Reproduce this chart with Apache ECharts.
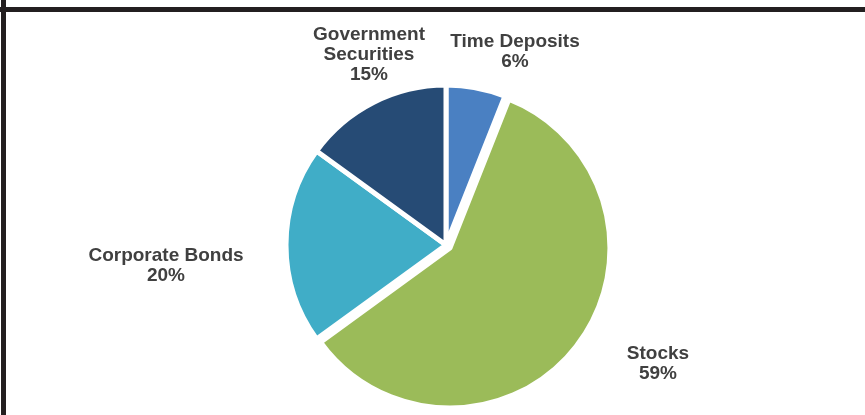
<!doctype html>
<html>
<head>
<meta charset="UTF-8">
<title>Portfolio Allocation</title>
<script src="https://cdn.jsdelivr.net/npm/echarts@6/dist/echarts.min.js"></script>
<style>
  html, body { margin: 0; padding: 0; background: #ffffff; }
  #chart { width: 865px; height: 415px; }
</style>
</head>
<body>
<div id="chart"></div>
<script type="text/javascript">
// data, clockwise from 12 o'clock
var categories = ['Time Deposits', 'Stocks', 'Corporate Bonds', 'Government\nSecurities'];
var values = [6, 59, 20, 15];
var colors = ['#4a80c2', '#9bbb59', '#40adc7', '#264b75'];
var exploded = 'Stocks';

// where each label block is centred (layout only)
var labelPos = [[515, 52], [658, 364], [166, 266], [369, 55]];

var sliceData = [];
var labelData = [];
for (var i = 0; i < categories.length; i++) {
  sliceData.push({
    name: categories[i],
    value: values[i],
    selected: categories[i] == exploded,
    itemStyle: { color: colors[i] }
  });
  labelData.push({ name: categories[i], value: values[i] });
}

var chart = echarts.init(document.getElementById('chart'));
chart.setOption({
  animation: false,
  graphic: [
    { type: 'rect', shape: { x: 0, y: 7, width: 865, height: 5 }, style: { fill: '#231f20' } },
    { type: 'rect', shape: { x: 1, y: 0, width: 5, height: 415 }, style: { fill: '#231f20' } }
  ],
  series: [{
    // the slices
    type: 'pie',
    center: [446, 245],
    radius: 160,
    startAngle: 90,
    clockwise: true,
    selectedMode: 'single',
    selectedOffset: 5,
    itemStyle: { borderColor: '#ffffff', borderWidth: 5 },
    label: { show: false },
    labelLine: { show: false },
    emphasis: { disabled: true },
    data: sliceData
  }, {
    // the labels, on an invisible copy so the exploded slice does not move its label
    type: 'pie',
    center: [446, 245],
    radius: 160,
    startAngle: 90,
    clockwise: true,
    silent: true,
    z: 3,
    avoidLabelOverlap: false,
    itemStyle: { color: 'rgba(0,0,0,0)' },
    label: {
      show: true,
      position: 'outside',
      formatter: '{b}\n{d}%',
      fontFamily: 'Liberation Sans, Arial, sans-serif',
      fontWeight: 'bold',
      fontSize: 19,
      lineHeight: 20,
      color: '#404040',
      align: 'center'
    },
    labelLine: { show: false },
    labelLayout: function (params) {
      var p = labelPos[params.dataIndex];
      return { x: p[0], y: p[1], align: 'center', verticalAlign: 'middle' };
    },
    emphasis: { disabled: true },
    data: labelData
  }]
});
</script>
</body>
</html>
